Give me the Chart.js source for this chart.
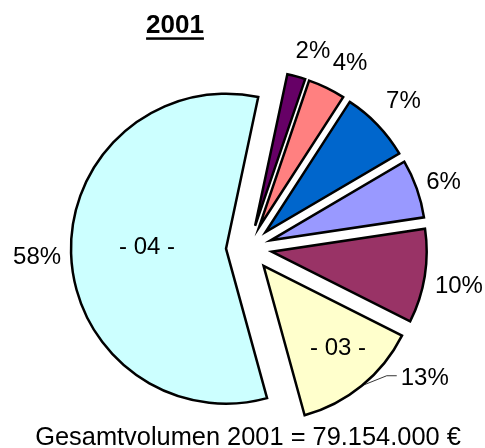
<!DOCTYPE html>
<html><head><meta charset="utf-8">
<script src="https://cdn.jsdelivr.net/npm/chart.js@4/dist/chart.umd.min.js"></script>
<style>html,body{margin:0;padding:0;background:#fff}#wrap{width:485px;height:448px;position:relative}</style>
</head><body><div id="wrap"><canvas id="c"></canvas></div>
<script>
// ---- data ----
const titleText = '2001';
const footerText = 'Gesamtvolumen 2001 = 79.154.000 €';
const categories = ['a', 'b', 'c', 'd', 'e', '03', '04'];
const shares = [1.9, 3.9, 7.4, 6.1, 9.8, 13.3, 57.6];
const percentLabels = ['2%', '4%', '7%', '6%', '10%', '13%', '58%'];
const innerLabels = ['', '', '', '', '', '- 03 -', '- 04 -'];

// ---- style ----
const colors = ['#660066', '#FF8080', '#0066CC', '#9999FF', '#993366', '#FFFFCC', '#CCFFFF'];
const FONT = '"Liberation Sans", Arial, sans-serif';
const EXPLODE = 23;
const labelRadius = [209, 212, 214, 206, 213, null, 212];
const labelAngleShift = [2.4, 2.6, 0, 0.3, 0.6, 0, -0.2];
const innerRadius = [0, 0, 0, 0, 0, 133, 102];
const innerAngleShift = [0, 0, 0, 0, 0, -2.7, 3.4];

// draw each arc pushed outward along its mid angle (uniform explosion)
const explodePlugin = {
  id: 'explode',
  beforeDatasetDraw(chart, args) {
    const c = chart.ctx;
    const meta = args.meta;
    meta.data.forEach((el) => {
      const p = el.getProps(['startAngle', 'endAngle'], true);
      const mid = (p.startAngle + p.endAngle) / 2;
      c.save();
      c.translate(Math.cos(mid) * EXPLODE, Math.sin(mid) * EXPLODE);
      el.draw(c);
      c.restore();
    });
    return false;
  }
};

const textPlugin = {
  id: 'texts',
  afterDraw(chart) {
    const c = chart.ctx;
    const meta = chart.getDatasetMeta(0);
    c.save();
    c.fillStyle = '#000';
    // title
    c.font = 'bold 26px ' + FONT;
    c.textAlign = 'center';
    c.textBaseline = 'alphabetic';
    c.fillText(titleText, 175, 33);
    const tw = c.measureText(titleText).width;
    c.fillRect(175 - tw / 2, 37.3, tw, 2.5);
    // footer
    c.font = '25.4px ' + FONT;
    c.fillText(footerText, 248, 445);
    // labels
    const size = 24;
    c.font = size + 'px ' + FONT;
    const capHalf = 0.358 * size;
    meta.data.forEach((el, i) => {
      const p = el.getProps(['x', 'y', 'startAngle', 'endAngle', 'outerRadius'], true);
      const mid = (p.startAngle + p.endAngle) / 2;
      if (labelRadius[i] !== null) {
        const a = mid + labelAngleShift[i] * Math.PI / 180;
        const lx = p.x + Math.cos(a) * labelRadius[i];
        const ly = p.y + Math.sin(a) * labelRadius[i];
        c.textAlign = 'center';
        c.fillText(percentLabels[i], lx, ly + capHalf);
      } else {
        const ex = p.x + Math.cos(mid) * EXPLODE, ey = p.y + Math.sin(mid) * EXPLODE;
        const sx = ex + Math.cos(mid) * p.outerRadius, sy = ey + Math.sin(mid) * p.outerRadius;
        c.strokeStyle = '#000';
        c.lineWidth = 0.8;
        c.beginPath();
        c.moveTo(sx, sy);
        c.lineTo(sx + 25, sy - 10);
        c.lineTo(sx + 35, sy - 10);
        c.stroke();
        c.textAlign = 'left';
        c.fillText(percentLabels[i], sx + 39, sy - 9 + capHalf);
      }
      if (innerLabels[i]) {
        const a = mid + innerAngleShift[i] * Math.PI / 180;
        const ix = p.x + Math.cos(a) * innerRadius[i];
        const iy = p.y + Math.sin(a) * innerRadius[i];
        c.textAlign = 'center';
        c.fillText(innerLabels[i], ix, iy + capHalf);
      }
    });
    c.restore();
  }
};

new Chart(document.getElementById('c'), {
  type: 'pie',
  data: {
    labels: categories,
    datasets: [{
      data: shares,
      backgroundColor: colors,
      borderColor: '#000',
      borderWidth: 2.5,
      borderJoinStyle: 'miter',
      offset: 0,
      hoverOffset: 0,
      rotation: 12,
      radius: 155
    }]
  },
  options: {
    responsive: true,
    maintainAspectRatio: false,
    animation: false,
    events: [],
    rotation: 12,
    radius: 155,
    layout: { padding: { left: 13, right: 0, top: 48, bottom: 0 } },
    plugins: { legend: { display: false }, tooltip: { enabled: false }, title: { display: false } }
  },
  plugins: [explodePlugin, textPlugin]
});
</script>
</body></html>
